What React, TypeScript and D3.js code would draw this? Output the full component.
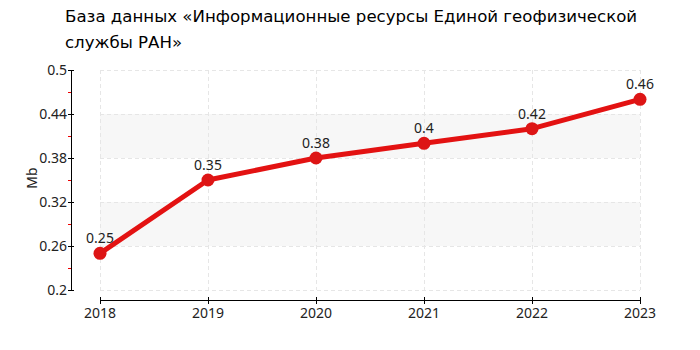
import React from "react";
import * as d3 from "d3";

const years = ["2018", "2019", "2020", "2021", "2022", "2023"];
const values = [0.25, 0.35, 0.38, 0.4, 0.42, 0.46];
const valueLabels = ["0.25", "0.35", "0.38", "0.4", "0.42", "0.46"];
const yTicks = [0.2, 0.26, 0.32, 0.38, 0.44, 0.5];
const yMinorTicks = [0.23, 0.29, 0.35, 0.41, 0.47];
const bands = [[0.26, 0.32], [0.38, 0.44]];
const titleLines = ["База данных «Информационные ресурсы Единой геофизической", "службы РАН»"];
const yLabel = "Mb";

export default function App() {
  const W = 700, H = 350;
  const x = d3.scalePoint<string>().domain(years).range([100, 640]);
  const y = d3.scaleLinear().domain([0.2, 0.5]).range([290, 70]);
  const font = "DejaVu Sans, Verdana, sans-serif";
  const tickFont = "Noto Sans, DejaVu Sans, sans-serif";
  const line = d3.line<number>().x((_, i) => x(years[i])!).y((d) => y(d));
  return (
    <svg width={W} height={H} style={{ position: "absolute", left: 0, top: 0, fontFamily: font }}>
      {titleLines.map((t, i) => (
        <text key={i} x={65} y={22 + i * 26} fontSize={16.6} fill="#000">{t}</text>
      ))}
      {bands.map(([a, b], i) => (
        <rect key={i} x={100} y={y(b)} width={540} height={y(a) - y(b)} fill="#f7f7f7" />
      ))}
      {yTicks.map((t) => (
        <line key={t} x1={100} x2={640} y1={Math.round(y(t)) + 0.5} y2={Math.round(y(t)) + 0.5} stroke="#e6e6e6" strokeDasharray="4,3" />
      ))}
      {years.map((yr) => (
        <line key={yr} x1={x(yr)! + 0.5} x2={x(yr)! + 0.5} y1={70} y2={290} stroke="#e6e6e6" strokeDasharray="4,3" />
      ))}
      {/* y axis */}
      <line x1={71.5} x2={71.5} y1={70} y2={290} stroke="#000" />
      {yTicks.map((t) => (
        <g key={t}>
          <line x1={68} x2={74} y1={Math.round(y(t)) + 0.5} y2={Math.round(y(t)) + 0.5} stroke="#000" />
          <text x={67} y={y(t) + 5} textAnchor="end" fontSize={14} fontFamily={tickFont} fill="#222">{t}</text>
        </g>
      ))}
      {yMinorTicks.map((t) => (
        <line key={t} x1={68} x2={71} y1={Math.round(y(t)) + 0.5} y2={Math.round(y(t)) + 0.5} stroke="#e00" />
      ))}
      <text transform={`translate(37,178) rotate(-90)`} textAnchor="middle" fontSize={14} fontFamily={tickFont} fill="#222">{yLabel}</text>
      {/* x axis */}
      <line x1={100} x2={640} y1={300.5} y2={300.5} stroke="#000" />
      {years.map((yr) => (
        <g key={yr}>
          <line x1={x(yr)! + 0.5} x2={x(yr)! + 0.5} y1={297} y2={304} stroke="#000" />
          <text x={x(yr)} y={318} textAnchor="middle" fontSize={14} fontFamily={tickFont} fill="#222">{yr}</text>
        </g>
      ))}
      <path d={line(values)!} fill="none" stroke="#e31212" strokeWidth={5} strokeLinejoin="round" />
      {values.map((v, i) => (
        <circle key={i} cx={x(years[i])} cy={y(v)} r={6.5} fill="#dd1515" />
      ))}
      {values.map((v, i) => (
        <text key={i} x={x(years[i])} y={y(v) - 10} textAnchor="middle" fontSize={14} fontFamily={tickFont} fill="#222">{valueLabels[i]}</text>
      ))}
    </svg>
  );
}
